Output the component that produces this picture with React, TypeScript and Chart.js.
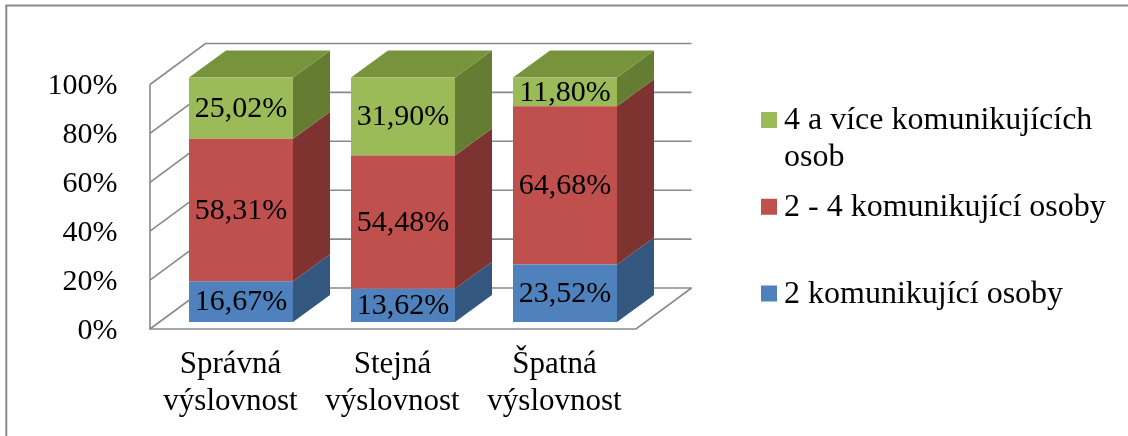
import React, { useEffect, useRef } from 'react';
import { Chart, registerables } from 'chart.js';

Chart.register(...registerables);

const categories = ['Správná výslovnost', 'Stejná výslovnost', 'Špatná výslovnost'];
const seriesLabels = ['2 komunikující osoby', '2 - 4 komunikující osoby', '4 a více komunikujících osob'];
const twoPersons = [16.67, 13.62, 23.52];
const twoToFour = [58.31, 54.48, 64.68];
const fourPlus = [25.02, 31.9, 11.8];
const yTickValues = [0, 20, 40, 60, 80, 100];

const FRONT = ['#4F81BD', '#C0504D', '#9BBB59'];
const SIDE = ['#34577F', '#7F3331', '#647D32'];
const TOP = ['#3E6494', '#9A3F3D', '#77933C'];

const FONT = "'Liberation Serif', 'Times New Roman', serif";
const GRID = '#898989';

// projection offsets relative to the bar front plane (px)
const BAR_D = { dx: 37, dy: -27 };
const WALL_FRONT = { dx: -10, dy: 7 };
const WALL_BACK = { dx: 45.5, dy: -34 };

const fmt = (v: number) => v.toFixed(2).replace('.', ',') + '%';

const threeD = {
  id: 'threeD',
  beforeDraw(chart: any) {
    const ctx = chart.ctx;
    ctx.save();
    ctx.strokeStyle = GRID;
    ctx.lineWidth = 2;
    ctx.beginPath();
    ctx.moveTo(6.3, chart.height + 2);
    ctx.lineTo(6.3, 5.5);
    ctx.lineTo(chart.width + 2, 5.5);
    ctx.stroke();
    ctx.restore();
  },
  beforeDatasetsDraw(chart: any) {
    const ctx = chart.ctx;
    const { left, right } = chart.chartArea;
    const ys = chart.scales.y;
    const fx = left + WALL_FRONT.dx;
    const bx = left + WALL_BACK.dx;
    const brx = right + WALL_BACK.dx;
    const frx = right + WALL_FRONT.dx;
    const y0 = ys.getPixelForValue(0);
    const yTop = ys.getPixelForValue(100);
    ctx.save();
    ctx.strokeStyle = GRID;
    ctx.lineWidth = 1.6;
    ctx.lineJoin = 'miter';
    yTickValues.forEach((v) => {
      const py = ys.getPixelForValue(v);
      ctx.beginPath();
      ctx.moveTo(fx, py + WALL_FRONT.dy);
      ctx.lineTo(bx, py + WALL_BACK.dy);
      ctx.lineTo(brx, py + WALL_BACK.dy);
      ctx.stroke();
    });
    // axis front edge and floor front/right edges
    ctx.beginPath();
    ctx.moveTo(fx, yTop + WALL_FRONT.dy);
    ctx.lineTo(fx, y0 + WALL_FRONT.dy);
    ctx.lineTo(frx, y0 + WALL_FRONT.dy);
    ctx.lineTo(brx, y0 + WALL_BACK.dy);
    ctx.stroke();
    ctx.restore();
  },
  afterDatasetsDraw(chart: any) {
    const ctx = chart.ctx;
    const n = chart.data.datasets.length;
    ctx.save();
    for (let i = 0; i < n; i++) {
      const meta = chart.getDatasetMeta(i);
      meta.data.forEach((el: any) => {
        const { x, y, base, width } = el.getProps(['x', 'y', 'base', 'width'], true);
        const l = x - width / 2;
        const r = x + width / 2;
        ctx.fillStyle = SIDE[i];
        ctx.beginPath();
        ctx.moveTo(r, y);
        ctx.lineTo(r + BAR_D.dx, y + BAR_D.dy);
        ctx.lineTo(r + BAR_D.dx, base + BAR_D.dy);
        ctx.lineTo(r, base);
        ctx.closePath();
        ctx.fill();
        if (i === n - 1) {
          ctx.fillStyle = TOP[i];
          ctx.beginPath();
          ctx.moveTo(l, y);
          ctx.lineTo(l + BAR_D.dx, y + BAR_D.dy);
          ctx.lineTo(r + BAR_D.dx, y + BAR_D.dy);
          ctx.lineTo(r, y);
          ctx.closePath();
          ctx.fill();
        }
      });
    }
    ctx.fillStyle = '#000';
    ctx.font = `30px ${FONT}`;
    ctx.textAlign = 'center';
    ctx.textBaseline = 'middle';
    for (let i = 0; i < n; i++) {
      const meta = chart.getDatasetMeta(i);
      const data = chart.data.datasets[i].data;
      meta.data.forEach((el: any, j: number) => {
        const { x, y, base } = el.getProps(['x', 'y', 'base'], true);
        ctx.fillText(fmt(data[j]), x, (y + base) / 2 + 1);
      });
    }
    ctx.restore();
  },
  afterDraw(chart: any) {
    const ctx = chart.ctx;
    const ds = chart.data.datasets;
    ctx.save();
    ctx.font = `32px ${FONT}`;
    ctx.textAlign = 'left';
    ctx.textBaseline = 'middle';
    const boxX = 761;
    const textX = 784;
    const maxW = 335;
    const firstY = 120;
    const step = 86.75;
    const lineH = 37;
    let k = 0;
    for (let i = ds.length - 1; i >= 0; i--) {
      const cy = firstY + k * step;
      ctx.fillStyle = ds[i].backgroundColor;
      ctx.fillRect(boxX, cy - 8, 16, 16);
      const words = String(ds[i].label).split(' ');
      const lines: string[] = [];
      let cur = '';
      words.forEach((w) => {
        const t = cur ? cur + ' ' + w : w;
        if (ctx.measureText(t).width > maxW && cur) {
          lines.push(cur);
          cur = w;
        } else cur = t;
      });
      if (cur) lines.push(cur);
      ctx.fillStyle = '#000';
      lines.forEach((ln, li) => ctx.fillText(ln, textX, cy + 1 + li * lineH));
      k++;
    }
    ctx.restore();
  },
};

export default function App() {
  const ref = useRef<HTMLCanvasElement | null>(null);
  useEffect(() => {
    document.body.style.margin = '0';
    if (!ref.current) return;
    const chart = new Chart(ref.current, {
      type: 'bar',
      data: {
        labels: categories,
        datasets: [
          { label: seriesLabels[0], data: twoPersons, backgroundColor: FRONT[0] },
          { label: seriesLabels[1], data: twoToFour, backgroundColor: FRONT[1] },
          { label: seriesLabels[2], data: fourPlus, backgroundColor: FRONT[2] },
        ],
      },
      options: {
        animation: false,
        responsive: false,
        devicePixelRatio: 1,
        layout: { padding: { left: 0, right: 482, top: 77.5, bottom: 0 } },
        datasets: { bar: { barPercentage: 0.642, categoryPercentage: 1, borderWidth: 0 } },
        plugins: { legend: { display: false }, tooltip: { enabled: false } },
        scales: {
          x: {
            stacked: true,
            grid: { display: false, drawTicks: false },
            border: { display: false },
            afterFit: (s: any) => { s.height = 114; },
            ticks: {
              color: '#000',
              padding: 25,
              labelOffset: -10.5,
              maxRotation: 0,
              autoSkip: false,
              font: { family: FONT, size: 31, lineHeight: 1.18 },
              callback: (_v: any, i: number) => categories[i].split(' '),
            },
          },
          y: {
            stacked: true,
            min: 0,
            max: 100,
            grid: { display: false, drawTicks: false },
            border: { display: false },
            afterFit: (s: any) => { s.width = 160; },
            ticks: {
              color: '#000',
              stepSize: 20,
              padding: 42.5,
              labelOffset: 9,
              font: { family: FONT, size: 30 },
              callback: (v: any) => v + '%',
            },
          },
        },
      },
      plugins: [threeD],
    } as any);
    return () => chart.destroy();
  }, []);
  return (
    <div style={{ position: 'fixed', left: 0, top: 0, width: 1128, height: 436, background: '#fff' }}>
      <canvas ref={ref} width={1128} height={436} style={{ display: 'block', width: 1128, height: 436 }} />
    </div>
  );
}
